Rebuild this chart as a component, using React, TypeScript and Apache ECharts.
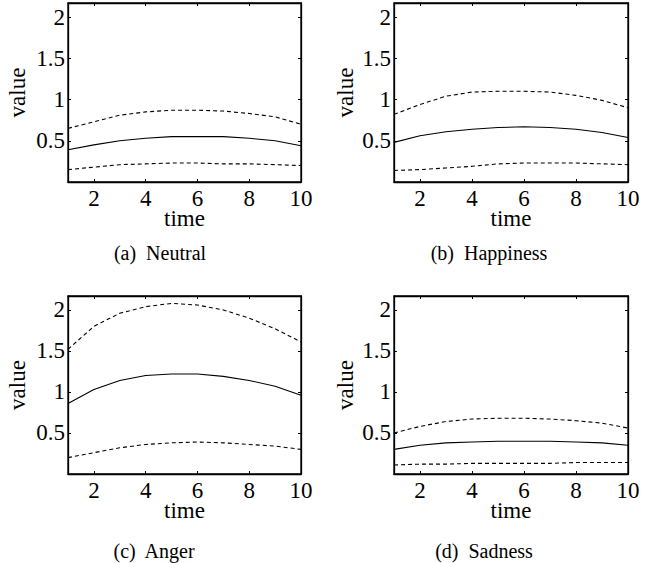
import React, { useEffect, useRef } from 'react';
import * as echarts from 'echarts';

const times = ['1', '2', '3', '4', '5', '6', '7', '8', '9', '10'];
const yTicks = [0.5, 1, 1.5, 2];

const neutralMean = [0.39, 0.45, 0.5, 0.53, 0.55, 0.55, 0.55, 0.53, 0.5, 0.44];
const neutralUpper = [0.65, 0.73, 0.81, 0.85, 0.87, 0.87, 0.86, 0.83, 0.79, 0.7];
const neutralLower = [0.15, 0.18, 0.21, 0.22, 0.23, 0.23, 0.22, 0.22, 0.21, 0.2];

const happyMean = [0.48, 0.56, 0.61, 0.64, 0.66, 0.67, 0.66, 0.64, 0.6, 0.54];
const happyUpper = [0.82, 0.94, 1.04, 1.09, 1.1, 1.1, 1.09, 1.05, 0.99, 0.9];
const happyLower = [0.14, 0.15, 0.17, 0.19, 0.22, 0.23, 0.23, 0.23, 0.22, 0.21];

const angerMean = [0.86, 1.03, 1.14, 1.2, 1.22, 1.22, 1.19, 1.14, 1.07, 0.96];
const angerUpper = [1.52, 1.8, 1.96, 2.04, 2.08, 2.06, 2.0, 1.9, 1.77, 1.61];
const angerLower = [0.2, 0.26, 0.32, 0.36, 0.38, 0.39, 0.38, 0.36, 0.34, 0.3];

const sadMean = [0.3, 0.35, 0.38, 0.39, 0.4, 0.4, 0.4, 0.39, 0.38, 0.35];
const sadUpper = [0.5, 0.58, 0.64, 0.67, 0.68, 0.68, 0.67, 0.65, 0.62, 0.56];
const sadLower = [0.11, 0.12, 0.12, 0.13, 0.13, 0.13, 0.13, 0.14, 0.14, 0.14];

const captions = ['(a)  Neutral', '(b)  Happiness', '(c)  Anger', '(d)  Sadness'];

const panelData = [
  [neutralMean, neutralUpper, neutralLower],
  [happyMean, happyUpper, happyLower],
  [angerMean, angerUpper, angerLower],
  [sadMean, sadUpper, sadLower],
];

const FONT = 'Liberation Serif, Times New Roman, serif';

export default function App() {
  const ref = useRef<HTMLDivElement>(null);
  useEffect(() => {
    if (!ref.current) return;
    const chart = echarts.init(ref.current, undefined, { renderer: 'svg' });
    const grids = [
      { left: 68, top: 3, width: 233, height: 179 },
      { left: 394, top: 3, width: 234, height: 179 },
      { left: 68, top: 296, width: 233, height: 178 },
      { left: 394, top: 296, width: 234, height: 178 },
    ];
    const capPos = [
      [160, 253],
      [489, 253],
      [154, 551],
      [484, 551],
    ];
    const yMin = 0;
    const yMax = 2.17;
    const yFmt = (v: number) => {
      const hit = yTicks.find((t) => Math.abs(t - v) < 1e-6);
      return hit === undefined ? '' : String(hit);
    };
    const evenIdx = (i: number) => (i + 1) % 2 === 0;
    const mkLine = () => ({ show: true, onZero: false, lineStyle: { color: '#000', width: 1.3 } });
    const mkTick = () => ({ show: true, inside: true, length: 3, lineStyle: { color: '#000', width: 1 } });
    const xAxes: any[] = [];
    const yAxes: any[] = [];
    const series: any[] = [];
    grids.forEach((_, g) => {
      xAxes.push({
        type: 'category',
        gridIndex: g,
        data: times,
        boundaryGap: false,
        position: 'bottom',
        name: 'time',
        nameLocation: 'middle',
        nameGap: 27,
        nameMoveOverlap: false,
        nameTextStyle: { fontFamily: FONT, fontSize: 23, lineHeight: 18, color: '#000' },
        axisLine: mkLine(),
        axisTick: { ...mkTick(), interval: evenIdx },
        axisLabel: {
          interval: evenIdx,
          fontFamily: FONT,
          fontSize: 23,
          lineHeight: 18,
          color: '#000',
          margin: 7,
        },
        splitLine: { show: false },
      });
      xAxes.push({
        type: 'category',
        gridIndex: g,
        data: times,
        boundaryGap: false,
        position: 'top',
        axisLine: mkLine(),
        axisTick: { ...mkTick(), interval: evenIdx },
        axisLabel: { show: false },
        splitLine: { show: false },
      });
      yAxes.push({
        type: 'value',
        gridIndex: g,
        min: yMin,
        max: yMax,
        interval: 0.5,
        position: 'left',
        name: 'value',
        nameLocation: 'middle',
        nameGap: g % 2 === 0 ? 39 : 37,
        nameMoveOverlap: false,
        nameTextStyle: { fontFamily: FONT, fontSize: 23, color: '#000' },
        axisLine: mkLine(),
        axisTick: mkTick(),
        axisLabel: { formatter: yFmt, fontFamily: FONT, fontSize: 23, color: '#000', margin: 3 },
        splitLine: { show: false },
      });
      yAxes.push({
        type: 'value',
        gridIndex: g,
        min: yMin,
        max: yMax,
        interval: 0.5,
        position: 'right',
        axisLine: mkLine(),
        axisTick: mkTick(),
        axisLabel: { show: false },
        splitLine: { show: false },
      });
      const [mean, upper, lower] = panelData[g];
      const mk = (data: number[], dashed: boolean) => ({
        type: 'line',
        xAxisIndex: g * 2,
        yAxisIndex: g * 2,
        data,
        showSymbol: false,
        symbol: 'none',
        lineStyle: { color: '#000', width: 1.1, type: dashed ? [4, 3] : 'solid' },
        z: 3,
      });
      series.push(mk(upper, true), mk(mean, false), mk(lower, true));
    });
    chart.setOption({
      animation: false,
      backgroundColor: '#fff',
      grid: grids.map((gr) => ({
        ...gr,
        show: true,
        borderColor: '#000',
        borderWidth: 1.3,
        backgroundColor: 'transparent',
        containLabel: false,
      })),
      xAxis: xAxes,
      yAxis: yAxes,
      series,
      graphic: captions.map((c, i) => ({
        type: 'text',
        x: capPos[i][0],
        y: capPos[i][1],
        style: {
          text: c,
          fontFamily: FONT,
          fontSize: 20,
          fill: '#000',
          textAlign: 'center',
          textVerticalAlign: 'middle',
        },
      })),
    });
    return () => chart.dispose();
  }, []);
  return (
    <div
      ref={ref}
      style={{ position: 'absolute', left: 0, top: 0, width: 663, height: 563, background: '#fff' }}
    />
  );
}
